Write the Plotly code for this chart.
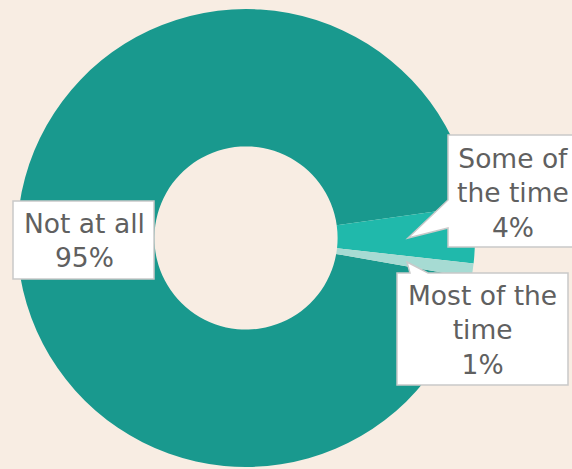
import plotly.graph_objects as go

# ---- data ----
categories = ["Not at all", "Some of the time", "Most of the time"]
values = [95, 4, 1]
display_labels = ["Not at all", "Some of<br>the time", "Most of the<br>time"]

colors = ["#19998e", "#20b9ab", "#a6dbd3"]
bg = "#f8ede3"

W, H = 572, 469

def px(x):
    return x / W

def py(y):
    return 1 - y / H

# pie geometry (pixels)
cx, cy, r = 246, 238, 229

fig = go.Figure()
fig.add_trace(go.Pie(
    labels=categories,
    values=values,
    hole=0.40,
    sort=False,
    direction="clockwise",
    rotation=100,
    textinfo="none",
    hoverinfo="label+percent",
    marker=dict(colors=colors, line=dict(width=0)),
    domain=dict(x=[px(cx - r), px(cx + r)], y=[py(cy + r), py(cy - r)]),
    showlegend=False,
))

def path(points):
    return "M " + " L ".join(f"{px(x)},{py(y)}" for x, y in points) + " Z"

box_style = dict(type="path", xref="paper", yref="paper",
                 fillcolor="white", line=dict(color="#c9c9c9", width=1.5), layer="above")

# callout boxes (pixel outlines)
callouts = [
    [(13, 201), (154, 201), (154, 279), (13, 279)],
    [(448, 135), (576, 135), (576, 247), (448, 247), (448, 228), (408, 238), (448, 200)],
    [(397, 273), (410, 273), (407, 262), (428, 273), (568, 273), (568, 385), (397, 385)],
]
for pts in callouts:
    fig.add_shape(path=path(pts), **box_style)

text_pos = [(84, 240), (513, 193), (482, 330)]
for i, (lab, v) in enumerate(zip(display_labels, values)):
    tx, ty = text_pos[i]
    fig.add_annotation(
        x=px(tx), y=py(ty), xref="paper", yref="paper",
        text=f"{lab}<br>{v}%", showarrow=False,
        xanchor="center", yanchor="middle", align="center",
        font=dict(family="DejaVu Sans", size=26.5, color="#606060"),
    )

fig.update_layout(
    width=W, height=H,
    margin=dict(l=0, r=0, t=0, b=0),
    paper_bgcolor=bg, plot_bgcolor=bg,
)

fig.write_html("out.html")
